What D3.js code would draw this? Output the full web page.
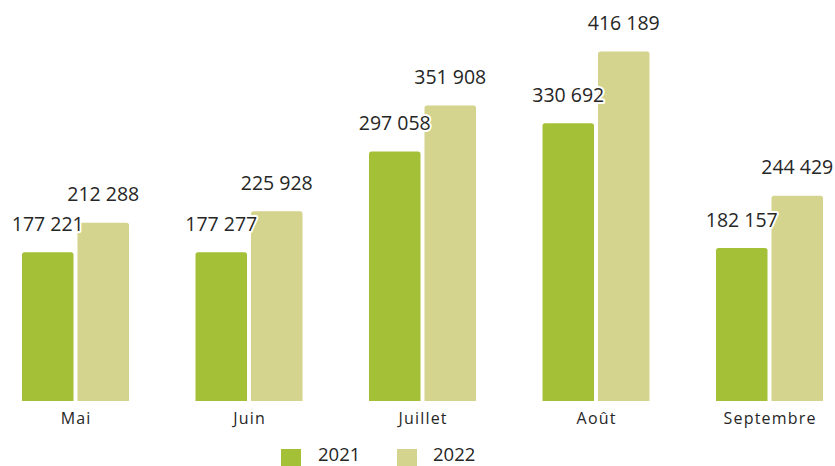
<!DOCTYPE html>
<html><head><meta charset="utf-8">
<script src="https://cdn.jsdelivr.net/npm/d3@7"></script>
<style>body{margin:0;background:#fff}svg{display:block}</style>
</head><body>
<script>
const categories = ["Mai","Juin","Juillet","Août","Septembre"];
const seriesNames = ["2021","2022"];
const values2021 = [177221,177277,297058,330692,182157];
const values2022 = [212288,225928,351908,416189,244429];
const colors = ["#a3c037","#d5d48e"];

const W=835,H=466;
const svg=d3.select("body").append("svg").attr("width",W).attr("height",H);
const baseY=401;
const x=d3.scaleBand().domain(categories).range([-11.25,856.25]).paddingInner(0).paddingOuter(0);
const step=x.bandwidth();
const y=d3.scaleLinear().domain([0,416189]).range([baseY,51.5]);
const bw=51.5, gap=4;
const data=categories.map((c,i)=>({c,vals:[values2021[i],values2022[i]]}));
const fmt=v=>d3.format(",")(v).replace(/,/g," ");
const offX=c=>x(c)+step/2-bw-gap/2;

data.forEach(d=>{
  d.vals.forEach((v,j)=>{
    const bx=offX(d.c)+j*(bw+gap);
    const top=y(v);
    const r=2.5;
    svg.append("path")
      .attr("d",`M${bx},${baseY}V${top+r}Q${bx},${top} ${bx+r},${top}H${bx+bw-r}Q${bx+bw},${top} ${bx+bw},${top+r}V${baseY}Z`)
      .attr("fill",colors[j]);
  });
});
// labels
data.forEach(d=>{
  d.vals.forEach((v,j)=>{
    const bx=offX(d.c)+j*(bw+gap);
    svg.append("text").attr("x",bx+bw/2).attr("y",y(v)-21.5)
      .attr("text-anchor","middle").attr("font-family","Open Sans, sans-serif")
      .attr("font-size",19.5).attr("fill","#262626")
      .attr("stroke","#fff").attr("stroke-width",4).attr("paint-order","stroke")
      .attr("stroke-linejoin","round")
      .text(fmt(v));
  });
});
// category axis labels
svg.append("g").selectAll("text").data(categories).join("text")
  .attr("x",c=>offX(c)+bw+gap/2+0.6).attr("y",424)
  .attr("text-anchor","middle").attr("font-family","Open Sans, sans-serif")
  .attr("font-size",16).attr("letter-spacing",1.2).attr("fill","#262626").text(c=>c);
// legend
const lg=[{x:281,t:318},{x:397,t:433}];
seriesNames.forEach((s,i)=>{
  svg.append("rect").attr("x",lg[i].x).attr("y",449).attr("width",20).attr("height",17).attr("fill",colors[i]);
  svg.append("text").attr("x",lg[i].t).attr("y",461).attr("font-family","Open Sans, sans-serif")
    .attr("font-size",18.5).attr("fill","#262626").text(s);
});
</script>
</body></html>
